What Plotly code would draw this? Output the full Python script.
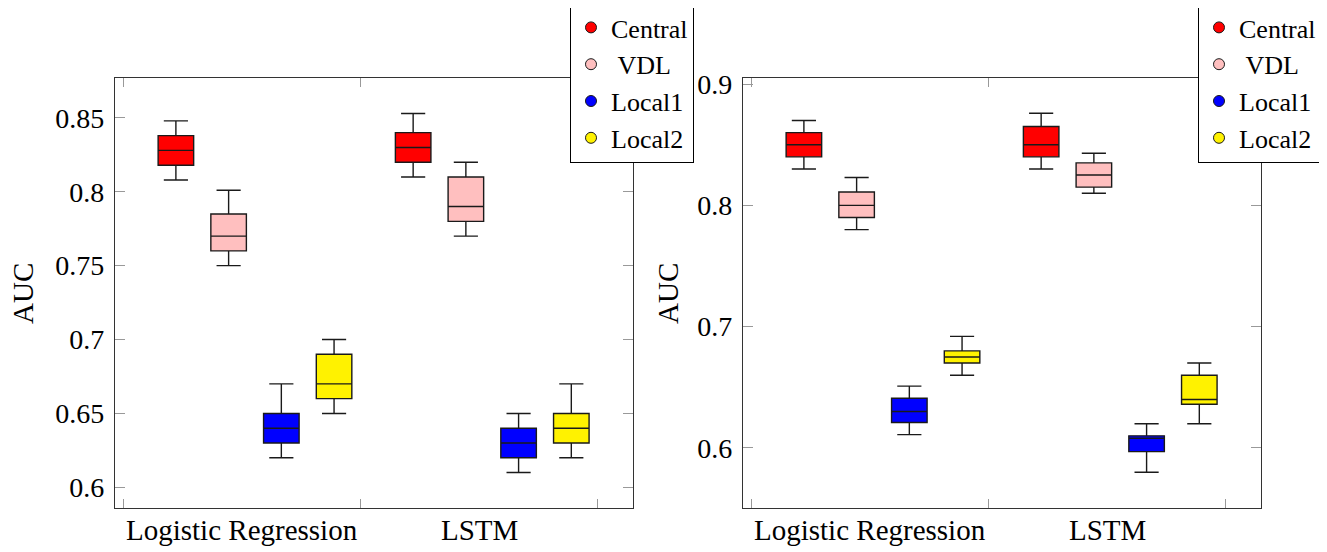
import plotly.graph_objects as go

categories = ["Logistic Regression", "LSTM"]
methods = ["Central", "VDL", "Local1", "Local2"]
legend_names = ["Central", "\u00a0VDL", "Local1", "Local2"]
colors = ["#FF0000", "#FFBFBF", "#0000FF", "#FFF200"]

# Left panel: per method, per category [LR, LSTM]
left_low = [[0.808, 0.810], [0.750, 0.770], [0.620, 0.610], [0.650, 0.620]]
left_q1 = [[0.818, 0.820], [0.760, 0.780], [0.630, 0.620], [0.660, 0.630]]
left_med = [[0.828, 0.830], [0.770, 0.790], [0.640, 0.630], [0.670, 0.640]]
left_q3 = [[0.838, 0.840], [0.785, 0.810], [0.650, 0.640], [0.690, 0.650]]
left_high = [[0.848, 0.853], [0.801, 0.820], [0.670, 0.650], [0.700, 0.670]]

# Right panel
right_low = [[0.830, 0.830], [0.780, 0.810], [0.611, 0.580], [0.660, 0.620]]
right_q1 = [[0.840, 0.840], [0.790, 0.815], [0.621, 0.597], [0.670, 0.636]]
right_med = [[0.850, 0.850], [0.800, 0.825], [0.630, 0.608], [0.675, 0.640]]
right_q3 = [[0.860, 0.865], [0.811, 0.835], [0.641, 0.610], [0.680, 0.660]]
right_high = [[0.870, 0.876], [0.823, 0.843], [0.651, 0.620], [0.692, 0.670]]

left_yticks = [0.6, 0.65, 0.7, 0.75, 0.8, 0.85]
left_yticktext = ["0.6", "0.65", "0.7", "0.75", "0.8", "0.85"]
right_yticks = [0.6, 0.7, 0.8, 0.9]
right_yticktext = ["0.6", "0.7", "0.8", "0.9"]

# page body has an 8px margin; figure sized to fit the window
OFF = 8
W, H = 1327 - OFF, 552 - OFF
FONT = "Liberation Serif"

def px(x):
    return (x - OFF) / W

def py(y):
    return 1 - (y - OFF) / H

fig = go.Figure()

def add_panel(xa, ya, legend, low, q1, med, q3, high):
    for mi, m in enumerate(methods):
        for ci in range(len(categories)):
            pos = ci * 4.5 + 1 + mi
            fig.add_trace(go.Box(
                x=[pos], q1=[q1[mi][ci]], median=[med[mi][ci]], q3=[q3[mi][ci]],
                lowerfence=[low[mi][ci]], upperfence=[high[mi][ci]],
                width=0.674, whiskerwidth=0.68, boxpoints=False,
                fillcolor=colors[mi], line=dict(color="#1a1a1a", width=1.4),
                xaxis=xa, yaxis=ya, showlegend=False, hoverinfo="skip"))
        fig.add_trace(go.Scatter(
            x=[None], y=[None], mode="markers", name=legend_names[mi],
            marker=dict(symbol="circle", size=11, color=colors[mi],
                        line=dict(color="#1a1a1a", width=1)),
            xaxis=xa, yaxis=ya, legend=legend, showlegend=True))

add_panel("x", "y", "legend", left_low, left_q1, left_med, left_q3, left_high)
add_panel("x2", "y2", "legend2", right_low, right_q1, right_med, right_q3, right_high)

ydom = [py(508), py(78)]
xdom1 = [px(115), px(633)]
xdom2 = [px(743), px(1261)]
xrange_ = [-0.155, 9.67]

def xaxis_cfg(dom, anchor):
    return dict(domain=dom, anchor=anchor, range=xrange_, automargin=False,
                tickvals=[0, 4.5, 9], ticktext=["", "", ""],
                ticks="inside", ticklen=9, tickcolor="#999999", tickwidth=1.2,
                showline=True, linecolor="#333333", linewidth=1.3, mirror="allticks",
                showgrid=False, zeroline=False)

def yaxis_cfg(dom, anchor, rng, tv, tt):
    return dict(domain=dom, anchor=anchor, range=rng, tickvals=tv, ticktext=tt,
                automargin=False,
                ticks="inside", ticklen=10, tickcolor="#999999", tickwidth=1.2,
                showline=True, linecolor="#333333", linewidth=1.3, mirror="allticks",
                showgrid=False, zeroline=False,
                tickfont=dict(family=FONT, size=28, color="black"),
                ticklabelstandoff=4)

legend_common = dict(font=dict(family=FONT, size=26, color="black"),
                     bordercolor="black", borderwidth=1, bgcolor="white",
                     xanchor="right", yanchor="top", yref="paper", xref="paper",
                     itemwidth=30, tracegroupgap=0)

annotations = []
for xa in ["x", "x2"]:
    for ci, cat in enumerate(categories):
        annotations.append(dict(
            text=cat, x=ci * 4.5 + 2.25, xref=xa, y=py(530), yref="paper",
            showarrow=False, xanchor="center", yanchor="middle",
            font=dict(family=FONT, size=29, color="black")))
for xpos in [23, 668]:
    annotations.append(dict(
        text="AUC", x=px(xpos), y=py(294), xref="paper", yref="paper",
        textangle=-90, showarrow=False, xanchor="center", yanchor="middle",
        font=dict(family=FONT, size=29, color="black")))

fig.update_layout(
    width=W, height=H, margin=dict(l=0, r=0, t=0, b=0, autoexpand=False),
    paper_bgcolor="white", plot_bgcolor="white",
    boxmode="overlay",
    xaxis=xaxis_cfg(xdom1, "y"),
    yaxis=yaxis_cfg(ydom, "x", [0.586, 0.877], left_yticks, left_yticktext),
    xaxis2=xaxis_cfg(xdom2, "y2"),
    yaxis2=yaxis_cfg(ydom, "x2", [0.5505, 0.905], right_yticks, right_yticktext),
    legend=dict(x=px(694), y=py(3), **legend_common),
    legend2=dict(x=px(1322), y=py(3), **legend_common),
    annotations=annotations,
)

fig.write_html("out.html")
